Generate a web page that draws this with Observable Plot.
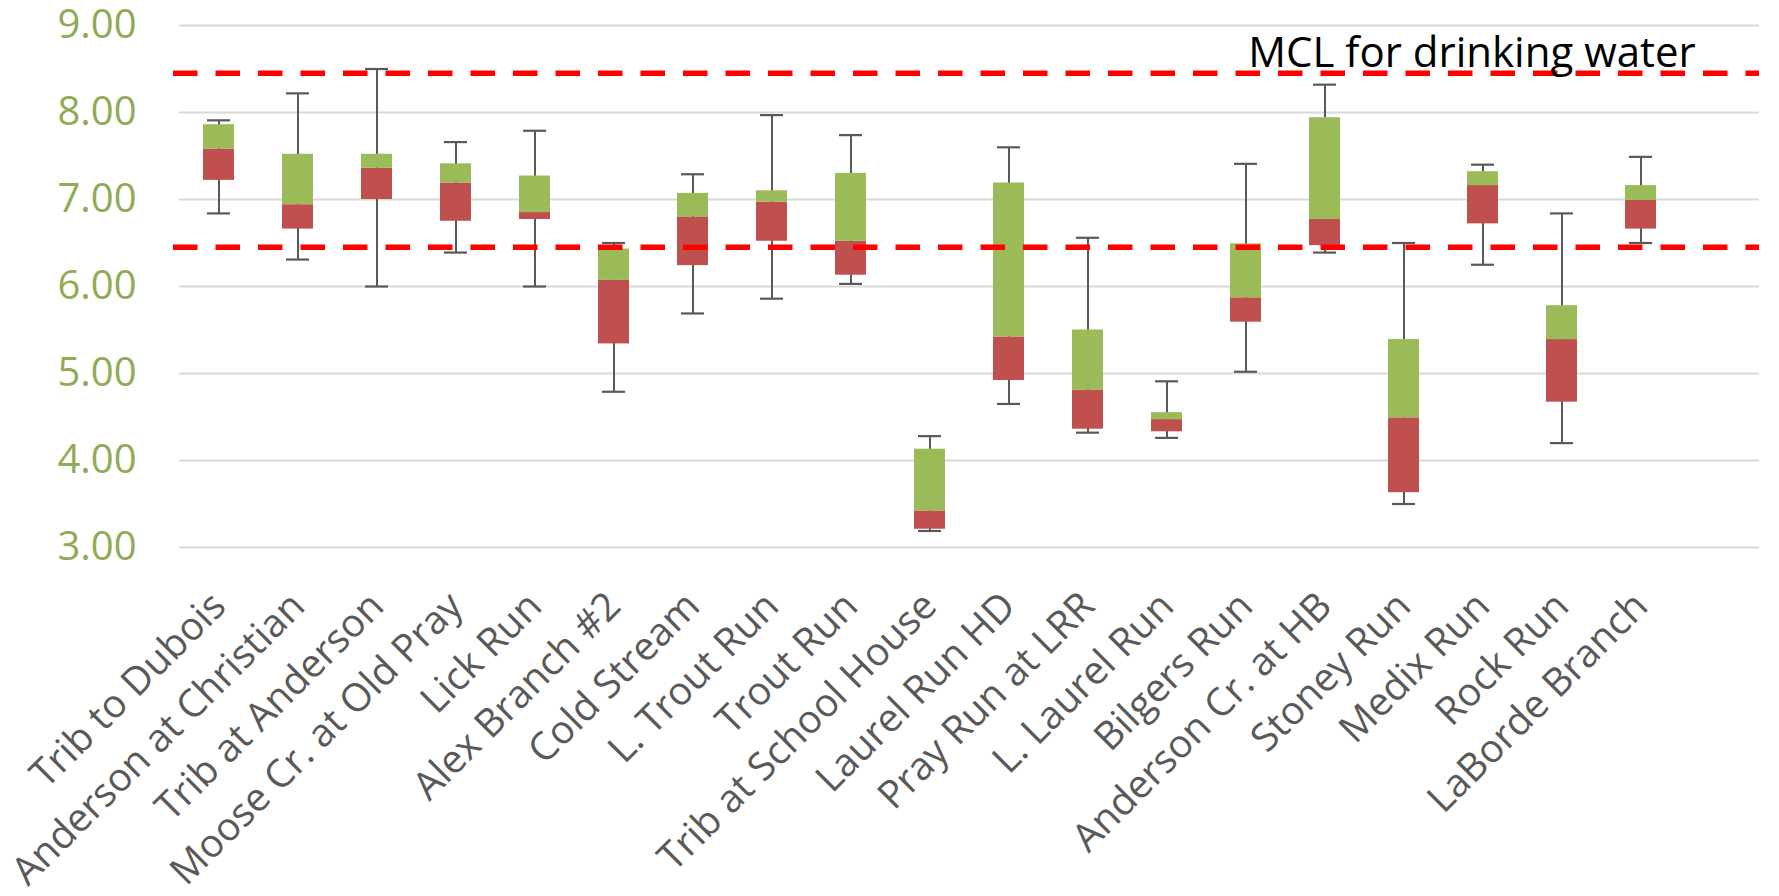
<!DOCTYPE html>
<html>
<head>
<meta charset="utf-8">
<script src="https://cdn.jsdelivr.net/npm/d3@7"></script>
<script src="https://cdn.jsdelivr.net/npm/@observablehq/plot@0.6"></script>
<style>
  html, body { margin: 0; padding: 0; background: #ffffff; }
  #chart { width: 1779px; height: 896px; }
</style>
</head>
<body>
<div id="chart"></div>
<script>
const sites = [
  "Trib to Dubois", "Anderson at Christian", "Trib at Anderson", "Moose Cr. at Old Pray",
  "Lick Run", "Alex Branch #2", "Cold Stream", "L. Trout Run", "Trout Run",
  "Trib at School House", "Laurel Run HD", "Pray Run at LRR", "L. Laurel Run",
  "Bilgers Run", "Anderson Cr. at HB", "Stoney Run", "Medix Run", "Rock Run", "LaBorde Branch"
];
const minValues    = [6.84, 6.31, 6.00, 6.39, 6.00, 4.79, 5.69, 5.86, 6.03, 3.19, 4.65, 4.32, 4.26, 5.02, 6.39, 3.50, 6.25, 4.20, 6.50];
const q1Values     = [7.22, 6.66, 7.00, 6.75, 6.77, 5.34, 6.24, 6.52, 6.13, 3.21, 4.92, 4.36, 4.33, 5.59, 6.47, 3.63, 6.72, 4.67, 6.66];
const medianValues = [7.58, 6.94, 7.36, 7.19, 6.85, 6.07, 6.80, 6.97, 6.52, 3.42, 5.42, 4.81, 4.47, 5.87, 6.77, 4.49, 7.16, 5.39, 6.99];
const q3Values     = [7.86, 7.52, 7.52, 7.41, 7.27, 6.43, 7.07, 7.10, 7.30, 4.13, 7.19, 5.50, 4.55, 6.49, 7.94, 5.39, 7.32, 5.78, 7.16];
const maxValues    = [7.91, 8.22, 8.50, 7.66, 7.79, 6.50, 7.29, 7.97, 7.74, 4.28, 7.60, 6.56, 4.91, 7.41, 8.32, 6.50, 7.40, 6.84, 7.49];
const mclLevels = [8.45, 6.45];
const mclLabel = "MCL for drinking water";
const mclLabelSite = "Medix Run";
const yTicks = [3, 4, 5, 6, 7, 8, 9];

const rows = sites.map((site, i) => ({
  site,
  min: minValues[i], q1: q1Values[i], median: medianValues[i], q3: q3Values[i], max: maxValues[i]
}));

const chart = Plot.plot({
  width: 1779,
  height: 896,
  marginLeft: 179,
  marginRight: 20,
  marginTop: 25,
  marginBottom: 349,
  style: { fontFamily: "'Open Sans', sans-serif", background: "#ffffff", overflow: "visible" },
  x: { domain: sites, range: [179, 1680], padding: 0 },
  y: { domain: [3, 9] },
  marks: [
    Plot.gridY(yTicks, { stroke: "#d9d9d9", strokeOpacity: 1, strokeWidth: 2 }),
    Plot.axisY(yTicks, {
      tickSize: 0, tickPadding: 43, tickFormat: d3.format(".2f"),
      fontSize: 40, color: "#8fab55", label: null
    }),
    Plot.axisX({
      tickSize: 0, tickPadding: 52, tickRotate: -45,
      fontSize: 39, color: "#595959", label: null
    }),
    Plot.ruleX(rows, { x: "site", y1: "min", y2: "max", stroke: "#595959", strokeWidth: 2 }),
    Plot.barY(rows, { x: "site", y1: "q1", y2: "median", fill: "#C0504D", insetLeft: 24, insetRight: 24 }),
    Plot.barY(rows, { x: "site", y1: "median", y2: "q3", fill: "#9BBB59", insetLeft: 24, insetRight: 24 }),
    Plot.tickY(rows, { x: "site", y: "max", stroke: "#595959", strokeWidth: 2.2, insetLeft: 28, insetRight: 28 }),
    Plot.tickY(rows, { x: "site", y: "min", stroke: "#595959", strokeWidth: 2.2, insetLeft: 28, insetRight: 28 }),
    Plot.ruleY(mclLevels, { stroke: "#ff0000", strokeWidth: 5.5, strokeDasharray: "24.5,18", insetLeft: -6 }),
    Plot.text([{ label: mclLabel, site: mclLabelSite, level: mclLevels[0] }], {
      x: "site", y: "level", text: "label", dx: -11, dy: -6,
      lineAnchor: "bottom", textAnchor: "middle", fontSize: 42, fill: "#000000"
    })
  ]
});
document.getElementById("chart").appendChild(chart);
</script>
</body>
</html>
